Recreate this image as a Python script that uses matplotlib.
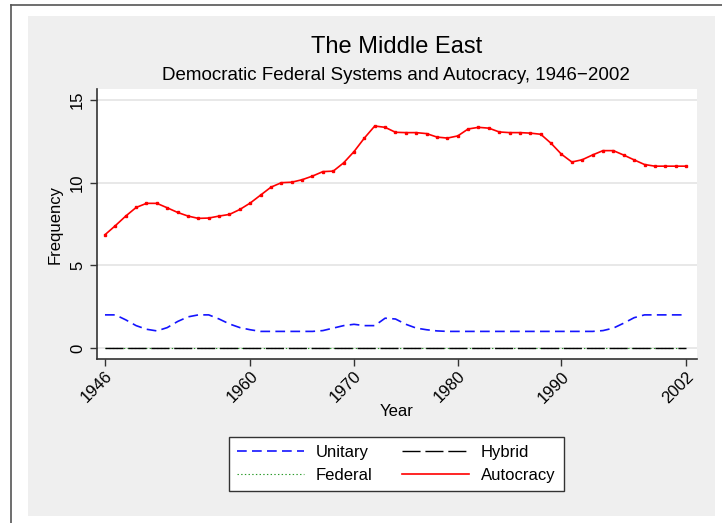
import numpy as np
import matplotlib.pyplot as plt
from matplotlib.lines import Line2D
from matplotlib.patches import Rectangle

plt.rcParams['font.family'] = ['Liberation Sans', 'DejaVu Sans']
plt.rcParams['lines.scale_dashes'] = False

years = np.arange(1946, 2003)

autocracy = [6.85, 7.4, 7.98, 8.5, 8.75, 8.75, 8.48, 8.2, 7.98, 7.84,
             7.86, 7.98, 8.08, 8.38, 8.77, 9.25, 9.73, 10.0, 10.03, 10.18,
             10.4, 10.67, 10.7, 11.2, 11.88, 12.7, 13.43, 13.35, 13.05, 13.03,
             13.03, 12.97, 12.76, 12.7, 12.83, 13.25, 13.35, 13.3, 13.07, 13.03,
             13.03, 13.0, 12.93, 12.38, 11.72, 11.25, 11.39, 11.68, 11.94, 11.94,
             11.67, 11.38, 11.1, 11.0, 11.0, 11.0, 11.0]

unitary = [2.0, 2.0, 1.7, 1.35, 1.13, 1.03, 1.23, 1.6, 1.88, 2.0,
           2.0, 1.75, 1.45, 1.23, 1.1, 1.0, 1.0, 1.0, 1.0, 1.0,
           1.0, 1.05, 1.2, 1.35, 1.43, 1.35, 1.35, 1.8, 1.75, 1.43,
           1.2, 1.1, 1.03, 1.0, 1.0, 1.0, 1.0, 1.0, 1.0, 1.0,
           1.0, 1.0, 1.0, 1.0, 1.0, 1.0, 1.0, 1.0, 1.05, 1.2,
           1.5, 1.83, 2.0, 2.0, 2.0, 2.0, 2.0]

federal = [0.0] * len(years)
hybrid = [0.0] * len(years)

xticks = [1946, 1960, 1970, 1980, 1990, 2002]
yticks = [0, 5, 10, 15]

W, H = 722, 523
fig = plt.figure(figsize=(W / 100, H / 100), dpi=100, facecolor='white')

# light grey graph region and the outer frame
fig.patches.append(Rectangle((28 / W, 1 - 516 / H), (715 - 28) / W, (516 - 16) / H,
                             transform=fig.transFigure, facecolor='#efefef',
                             edgecolor='none', zorder=-5))
fig.lines.append(Line2D([11 / W, 11 / W], [0, 1 - 5 / H], transform=fig.transFigure,
                        color='#555555', lw=1.2))
fig.lines.append(Line2D([11 / W, 1], [1 - 5 / H, 1 - 5 / H], transform=fig.transFigure,
                        color='#555555', lw=1.2))

ax = fig.add_axes([97 / W, 1 - 359 / H, 600 / W, 270 / H])
ax.set_facecolor('white')

styles = {
    'Unitary': dict(color='#1414ff', lw=1.2, dashes=(7, 3.8)),
    'Federal': dict(color='#2a9a2a', lw=0.8, ls=':'),
    'Hybrid': dict(color='black', lw=1.0, dashes=(13, 3.5)),
    'Autocracy': dict(color='#ff0000', lw=1.2),
}

ax.plot(years, unitary, **styles['Unitary'])
ax.plot(years, federal, **styles['Federal'])
ax.plot(years, hybrid, **styles['Hybrid'])
ax.plot(years, autocracy, marker='s', markersize=1.5, **styles['Autocracy'])

ax.set_xlim(1945.23, 2003.06)
ax.set_ylim(-0.67, 15.67)
ax.set_xticks(xticks)
ax.set_yticks(yticks)
ax.set_xticklabels([str(x) for x in xticks], rotation=45, ha='right',
                   rotation_mode='anchor', fontsize=12)
ax.set_yticklabels([str(y) for y in yticks], rotation=90, va='center', fontsize=12)
ax.tick_params(axis='both', direction='out', length=5, width=1, color='#333333')
ax.tick_params(axis='x', pad=2)
ax.grid(axis='y', color='#e4e4e4', lw=1.2)
ax.set_axisbelow(True)

for side in ['top', 'right']:
    ax.spines[side].set_visible(False)
for side in ['left', 'bottom']:
    ax.spines[side].set_color('#333333')
    ax.spines[side].set_linewidth(1.2)

ax.set_ylabel('Frequency', fontsize=12)
ax.yaxis.set_label_coords(-0.058, 0.5)
ax.set_xlabel('Year', fontsize=12)
ax.xaxis.set_label_coords(0.5, -0.167)

fig.text(0.549, 1 - 47 / H, 'The Middle East', ha='center', va='center', fontsize=17)
fig.text(0.549, 1 - 75 / H, 'Democratic Federal Systems and Autocracy, 1946\u22122002',
         ha='center', va='center', fontsize=13.5)

# legend: Unitary / Federal in the first column, Hybrid / Autocracy in the second
names = ['Unitary', 'Federal', 'Hybrid', 'Autocracy']
handles = [Line2D([], [], **styles[n]) for n in names]
leg = fig.legend(handles, names,
                 ncol=2, loc='center', bbox_to_anchor=(0.549, 1 - 464 / H),
                 fontsize=12, frameon=True, fancybox=False, edgecolor='#333333',
                 framealpha=1, handlelength=4.0, handletextpad=0.7,
                 columnspacing=1.8, labelspacing=0.45, borderpad=0.5)
leg.get_frame().set_linewidth(1.0)

fig.savefig('out.png', dpi=100, facecolor='white')
